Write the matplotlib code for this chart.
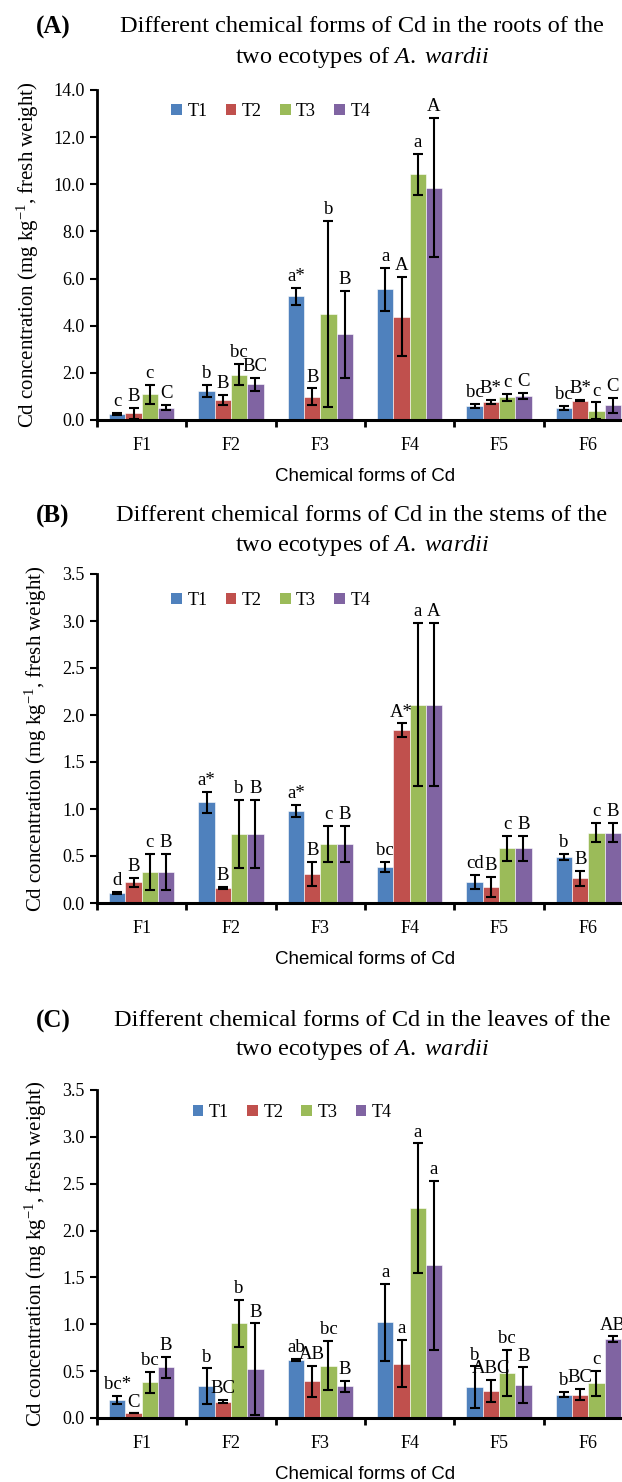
import matplotlib
matplotlib.use('Agg')
import matplotlib.pyplot as plt
from matplotlib.patches import Patch
import numpy as np

# ---- data -------------------------------------------------------------
forms = ['F1', 'F2', 'F3', 'F4', 'F5', 'F6']
treatments = ['T1', 'T2', 'T3', 'T4']
colors = ['#4F81BD', '#C0504D', '#9BBB59', '#8064A2']

# (A) roots
roots_mean = [
    [0.25, 1.24, 5.25, 5.54, 0.60, 0.52],
    [0.28, 0.85, 0.99, 4.38, 0.78, 0.82],
    [1.09, 1.93, 4.49, 10.42, 0.97, 0.40],
    [0.52, 1.52, 3.64, 9.86, 1.02, 0.62],
]
roots_err = [
    [0.04, 0.25, 0.35, 0.90, 0.08, 0.08],
    [0.22, 0.20, 0.35, 1.68, 0.08, 0.03],
    [0.39, 0.46, 3.95, 0.87, 0.15, 0.35],
    [0.11, 0.28, 1.85, 2.95, 0.12, 0.32],
]
roots_letters = [
    ['c', 'b', 'a*', 'a', 'bc', 'bc'],
    ['B', 'B', 'B', 'A', 'B*', 'B*'],
    ['c', 'bc', 'b', 'a', 'c', 'c'],
    ['C', 'BC', 'B', 'A', 'C', 'C'],
]

# (B) stems
stems_mean = [
    [0.11, 1.07, 0.98, 0.385, 0.225, 0.49],
    [0.22, 0.16, 0.31, 1.84, 0.17, 0.265],
    [0.33, 0.735, 0.63, 2.11, 0.58, 0.75],
    [0.33, 0.735, 0.63, 2.11, 0.58, 0.75],
]
stems_err = [
    [0.01, 0.11, 0.065, 0.05, 0.075, 0.03],
    [0.05, 0.01, 0.13, 0.07, 0.11, 0.08],
    [0.19, 0.36, 0.19, 0.87, 0.135, 0.10],
    [0.19, 0.36, 0.19, 0.87, 0.135, 0.10],
]
stems_letters = [
    ['d', 'a*', 'a*', 'bc', 'cd', 'b'],
    ['B', 'B', 'B', 'A*', 'B', 'B'],
    ['c', 'b', 'c', 'a', 'c', 'c'],
    ['B', 'B', 'B', 'A', 'B', 'B'],
]

# (C) leaves
leaves_mean = [
    [0.195, 0.34, 0.62, 1.02, 0.33, 0.25],
    [0.05, 0.175, 0.39, 0.58, 0.29, 0.25],
    [0.38, 1.01, 0.56, 2.24, 0.48, 0.37],
    [0.54, 0.52, 0.34, 1.63, 0.35, 0.84],
]
leaves_err = [
    [0.045, 0.19, 0.01, 0.41, 0.22, 0.03],
    [0.0, 0.02, 0.17, 0.25, 0.12, 0.06],
    [0.11, 0.25, 0.26, 0.69, 0.25, 0.13],
    [0.11, 0.49, 0.06, 0.90, 0.19, 0.03],
]
leaves_letters = [
    ['bc*', 'b', 'ab', 'a', 'b', 'b'],
    ['C', 'BC', 'AB', 'a', 'ABC', 'BC'],
    ['bc', 'b', 'bc', 'a', 'bc', 'c'],
    ['B', 'B', 'B', 'a', 'B', 'AB'],
]

tissues = ['roots', 'stems', 'leaves']
panel_tags = ['(A)', '(B)', '(C)']

# ---- style ------------------------------------------------------------
SERIF = 'Liberation Serif'
plt.rcParams['font.family'] = SERIF
plt.rcParams['mathtext.fontset'] = 'custom'
plt.rcParams['mathtext.rm'] = SERIF
plt.rcParams['mathtext.it'] = SERIF + ':italic'

W, H = 622, 1482
fig = plt.figure(figsize=(W / 100, H / 100), dpi=100)


def px_box(left, top, right, bottom):
    """Axes rect in figure fractions from pixel edges."""
    return [left / W, 1 - bottom / H, (right - left) / W, (bottom - top) / H]


def draw_panel(ax, means, errs, letters, ymax, ystep, fmt, legend_xy):
    x = np.arange(len(forms))
    bw = 0.182
    for i, name in enumerate(treatments):
        xs = x + (i - 1.5) * bw
        ax.bar(xs, means[i], width=bw, color=colors[i], edgecolor='white',
               linewidth=0.4, zorder=2)
        ax.errorbar(xs, means[i], yerr=errs[i], fmt='none', ecolor='black',
                    elinewidth=1.5, capsize=3.5, capthick=1.5, zorder=3)
        for xi, m, e, lab in zip(xs, means[i], errs[i], letters[i]):
            ax.annotate(lab, (xi, m + e), xytext=(0, 2),
                        textcoords='offset points', ha='center', va='bottom',
                        fontsize=13.5, family=SERIF, zorder=4)

    ax.set_xlim(-0.5, len(forms) - 0.5)
    ax.set_ylim(0, ymax)
    ax.set_yticks(np.arange(0, ymax + ystep / 2, ystep))
    ax.yaxis.set_major_formatter(matplotlib.ticker.FormatStrFormatter(fmt))
    ax.set_xticks(np.arange(-0.5, len(forms)), labels=[''] * (len(forms) + 1))
    ax.set_xticks(x, labels=forms, minor=True)
    ax.tick_params(axis='x', which='major', direction='out', length=5, width=2)
    ax.tick_params(axis='x', which='minor', length=0, pad=12, labelsize=13)
    ax.tick_params(axis='y', direction='out', length=5, width=1.5,
                   labelsize=13, pad=4)
    for side in ['top', 'right']:
        ax.spines[side].set_visible(False)
    ax.spines['left'].set_linewidth(2)
    ax.spines['bottom'].set_linewidth(2.2)

    ax.set_ylabel('Cd concentration (mg kg$^{-1}$, fresh weight)',
                  fontsize=15, labelpad=9)
    ax.set_xlabel('Chemical forms of Cd', fontsize=13.5,
                  family='Liberation Sans', labelpad=10)

    handles = [Patch(facecolor=c, edgecolor='none') for c in colors]
    ax.legend(handles, treatments, loc='center left', ncol=4, frameon=False,
              bbox_to_anchor=legend_xy, bbox_transform=ax.transData,
              fontsize=13, handlelength=0.6, handleheight=0.6,
              handletextpad=0.3, columnspacing=1.0, borderpad=0,
              borderaxespad=0)


panels = [
    (roots_mean, roots_err, roots_letters, 14.0, 2.0, '%.1f', (0.33, 13.1),
     (90, 420), (27, 57)),
    (stems_mean, stems_err, stems_letters, 3.5, 0.5, '%.1f', (0.33, 3.22),
     (574, 903), (516, 545)),
    (leaves_mean, leaves_err, leaves_letters, 3.5, 0.5, '%.1f', (0.57, 3.26),
     (1090, 1418), (1021, 1050)),
]

for k, (mn, er, lt, ymax, ystep, fmt, leg, (top, bot), (t1, t2)) in enumerate(panels):
    ax = fig.add_axes(px_box(97, top, 633, bot))
    draw_panel(ax, mn, er, lt, ymax, ystep, fmt, leg)
    fig.text(53 / W, 1 - t1 / H, panel_tags[k], ha='center', va='center',
             fontsize=18, fontweight='bold')
    fig.text(362 / W, 1 - t1 / H,
             'Different chemical forms of Cd in the %s of the' % tissues[k],
             ha='center', va='center', fontsize=17.5)
    fig.text(362 / W, 1 - t2 / H, r'two ecotypes of $\mathit{A.\ wardii}$',
             ha='center', va='center', fontsize=17.5)

fig.savefig('out.png', dpi=100)
